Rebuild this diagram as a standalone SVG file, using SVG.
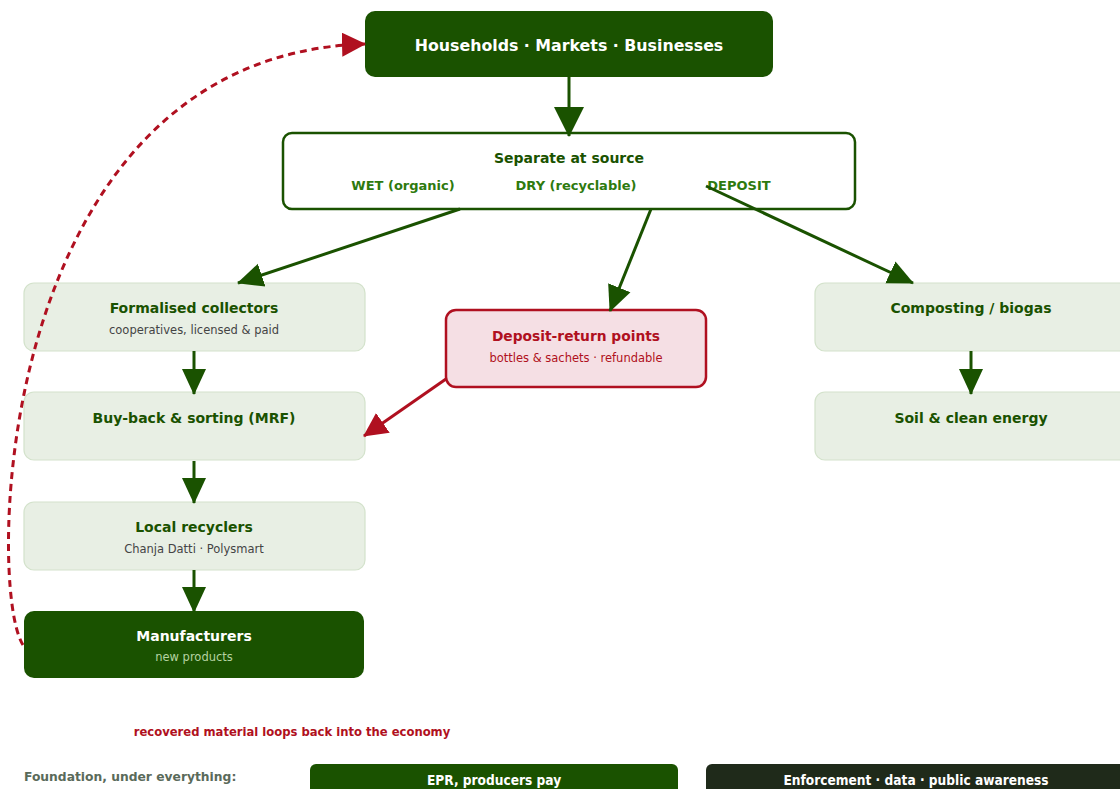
<svg xmlns="http://www.w3.org/2000/svg" width="1120" height="789" viewBox="0 0 1120 789">
<style>
text{font-family:"DejaVu Sans","Liberation Sans",sans-serif;text-anchor:middle}
.t{font-weight:bold;font-size:14px;fill:#1a5200}
.s{font-size:11.5px;fill:#444}
.lb{fill:#e8efe4;stroke:#d3e2cb;stroke-width:1.2}
.g{stroke:#1a5200;stroke-width:3;fill:none}
.sub{font-weight:bold;font-size:13px;fill:#2e7a0e}
.foot{font-family:"DejaVu Sans Condensed","DejaVu Sans",sans-serif;font-weight:bold;font-size:13.6px;fill:#fff}
</style>
<defs>
<marker id="ag" markerUnits="userSpaceOnUse" markerWidth="26" markerHeight="26" refX="25" refY="12" orient="auto" viewBox="0 0 26 24"><path d="M0,0 L26,12 L0,24 z" fill="#1a5200"/></marker>
<marker id="agb" markerUnits="userSpaceOnUse" markerWidth="30" markerHeight="30" refX="29" refY="15" orient="auto" viewBox="0 0 30 30"><path d="M0,0 L30,15 L0,30 z" fill="#1a5200"/></marker>
<marker id="ar" markerUnits="userSpaceOnUse" markerWidth="24" markerHeight="24" refX="23" refY="12" orient="auto" viewBox="0 0 24 24"><path d="M0,0 L24,12 L0,24 z" fill="#b01020"/></marker>
</defs>
<g id="households">
<rect x="365" y="11" width="408" height="66" rx="10" fill="#1a5200"/>
<text x="569" y="51" font-weight="bold" font-size="15.8" fill="#fff">Households · Markets · Businesses</text>
</g>
<g id="separate">
<rect x="283" y="133" width="572" height="76" rx="9" fill="#fff" stroke="#1a5200" stroke-width="2.5"/>
<text class="t" x="569" y="163">Separate at source</text>
<text class="sub" x="403" y="190">WET (organic)</text>
<text class="sub" x="576" y="190">DRY (recyclable)</text>
<text class="sub" x="739" y="190">DEPOSIT</text>
</g>
<g id="collectors">
<rect class="lb" x="24" y="283" width="341" height="68" rx="10"/>
<text class="t" x="194" y="313">Formalised collectors</text>
<text class="s" x="194" y="334">cooperatives, licensed &amp; paid</text>
</g>
<g id="buyback">
<rect class="lb" x="24" y="392" width="341" height="68" rx="10"/>
<text class="t" x="194" y="423">Buy-back &amp; sorting (MRF)</text>
</g>
<g id="recyclers">
<rect class="lb" x="24" y="502" width="341" height="68" rx="10"/>
<text class="t" x="194" y="532">Local recyclers</text>
<text class="s" x="194" y="553">Chanja Datti · Polysmart</text>
</g>
<g id="manufacturers">
<rect x="24" y="611" width="340" height="67" rx="10" fill="#1a5200"/>
<text x="194" y="641" font-weight="bold" font-size="14" fill="#fff">Manufacturers</text>
<text x="194" y="661" font-size="11.5" fill="#b5d3a0">new products</text>
</g>
<g id="deposit">
<rect x="446" y="310" width="260" height="77" rx="10" fill="#f5dfe4" stroke="#b01020" stroke-width="2.5"/>
<text x="576" y="341" font-weight="bold" font-size="13.8" fill="#b01020">Deposit-return points</text>
<text x="576" y="362" font-size="11.5" fill="#b01020">bottles &amp; sachets · refundable</text>
</g>
<g id="composting">
<rect class="lb" x="815" y="283" width="320" height="68" rx="10"/>
<text class="t" x="971" y="313">Composting / biogas</text>
</g>
<g id="soil">
<rect class="lb" x="815" y="392" width="320" height="68" rx="10"/>
<text class="t" x="971" y="423">Soil &amp; clean energy</text>
</g>
<g id="loop-label">
<text x="292" y="736" font-weight="bold" font-size="11.6" fill="#b01020">recovered material loops back into the economy</text>
</g>
<g id="foundation">
<text x="24" y="781" font-weight="bold" font-size="12.3" fill="#5a6a5a" style="text-anchor:start">Foundation, under everything:</text>
</g>
<g id="epr">
<rect x="310" y="764" width="368" height="40" rx="6" fill="#1a5200"/>
<text class="foot" x="494" y="785">EPR, producers pay</text>
</g>
<g id="enforcement">
<rect x="706" y="764" width="420" height="40" rx="6" fill="#1f2a1a"/>
<text class="foot" x="916" y="785">Enforcement · data · public awareness</text>
</g>
<g id="connectors">
<path class="g" d="M569,77 L569,136" marker-end="url(#agb)"/>
<path class="g" d="M460,209 L238,283" marker-end="url(#ag)"/>
<path class="g" d="M651,209 L610,311" marker-end="url(#ag)"/>
<path class="g" d="M706,186 L913,283" marker-end="url(#ag)"/>
<path class="g" d="M194,351 L194,394" marker-end="url(#ag)"/>
<path class="g" d="M194,461 L194,503" marker-end="url(#ag)"/>
<path class="g" d="M194,570 L194,612" marker-end="url(#ag)"/>
<path class="g" d="M971,351 L971,394" marker-end="url(#ag)"/>
<path d="M446,379 L364,436" stroke="#b01020" stroke-width="3" fill="none" marker-end="url(#ar)"/>
<path d="M23,645 C-14,588 -6,55 365,44" stroke="#b01020" stroke-width="3" fill="none" stroke-dasharray="7,5" marker-end="url(#ar)"/>
</g>
</svg>
